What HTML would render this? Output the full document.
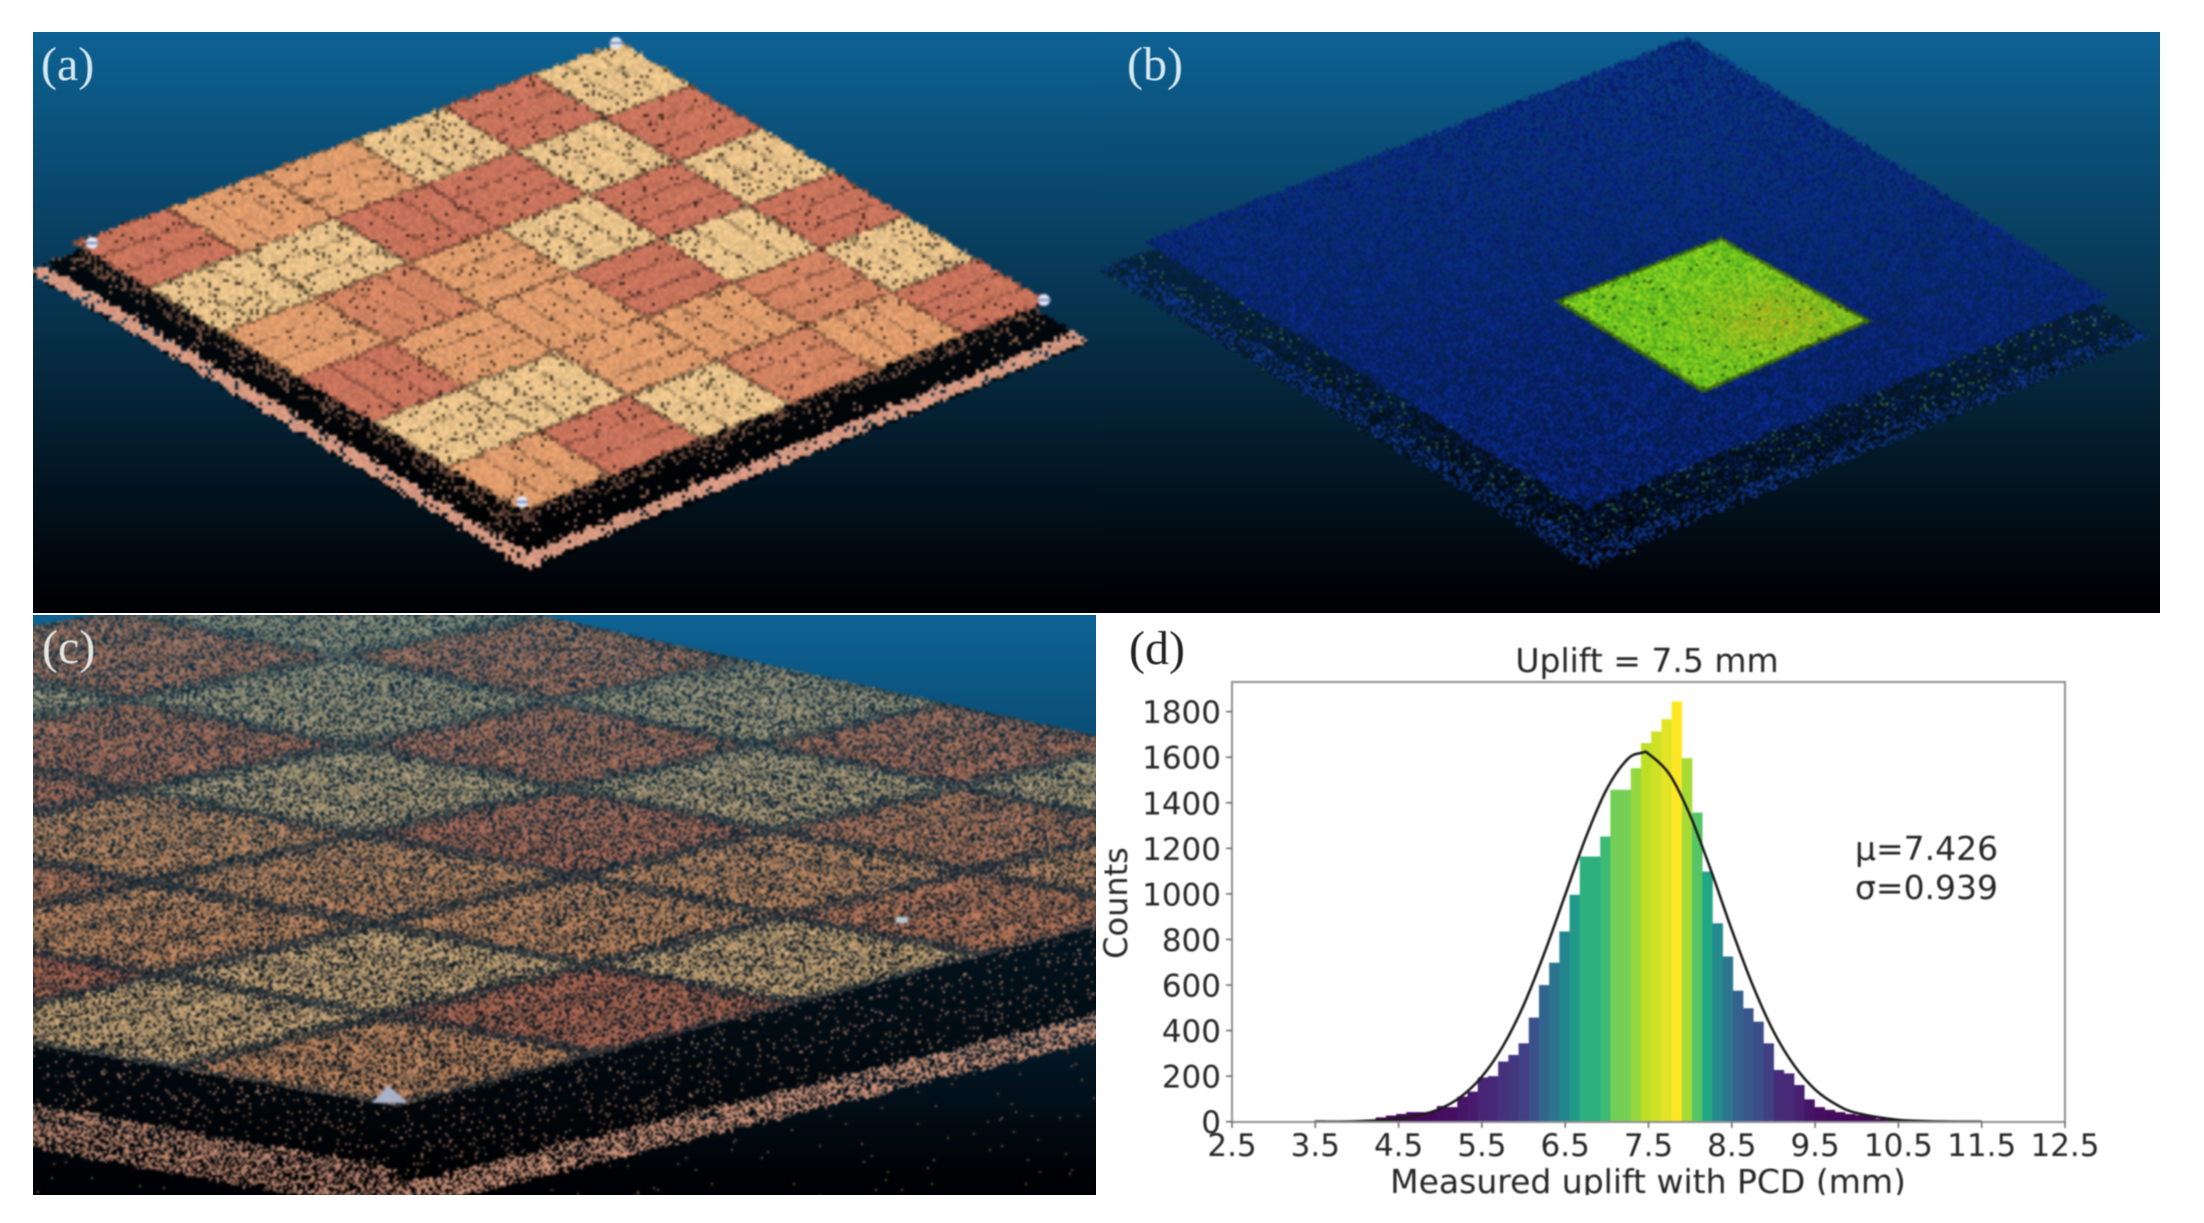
<!DOCTYPE html>
<html lang="en">
<head>
<meta charset="utf-8">
<title>Point cloud uplift figure</title>
<style>
html,body{margin:0;padding:0;background:#fff;}
body{position:relative;width:2204px;height:1223px;overflow:hidden;font-family:"DejaVu Sans",sans-serif;}
.panel{position:absolute;overflow:hidden;}
canvas{position:absolute;left:-8px;top:-8px;display:block;filter:blur(1px);}
.panel-label{position:absolute;font-family:"Liberation Serif",serif;font-size:48px;line-height:50px;filter:blur(0.5px);}
svg{position:absolute;left:0;top:0;filter:blur(0.7px);}
svg text{font-family:"DejaVu Sans",sans-serif;fill:#262626;}
</style>
</head>
<body>
<div class="panel" style="left:33px;top:32px;width:1067px;height:581px"><canvas id="ca" width="1083" height="597"></canvas></div>
<div class="panel" style="left:1100px;top:32px;width:1060px;height:581px"><canvas id="cb" width="1076" height="597"></canvas></div>
<div class="panel" style="left:33px;top:615px;width:1063px;height:580px"><canvas id="cc" width="1079" height="596"></canvas></div>

<div class="panel-label" style="left:41px;top:40px;color:#d5e8f0">(a)</div>
<div class="panel-label" style="left:1127px;top:40px;color:#d5e8f0">(b)</div>
<div class="panel-label" style="left:42px;top:623px;color:#e4e6e0">(c)</div>
<div class="panel-label" style="left:1129px;top:624px;color:#222">(d)</div>

<svg id="chart" width="2204" height="1223" viewBox="0 0 2204 1223" xmlns="http://www.w3.org/2000/svg">
  <defs><clipPath id="figure-clip"><rect x="0" y="0" width="2204" height="1195"/></clipPath></defs>
  <g id="bars"></g>
  <path id="fit" fill="none" stroke="#1c1c1c" stroke-width="2.6"/>
  <rect x="1232" y="682" width="833" height="440" fill="none" stroke="#8f8f8f" stroke-width="2"/>
  <g id="ticks"></g>
  <text x="1647" y="672" font-size="33" text-anchor="middle">Uplift = 7.5 mm</text>
  <text transform="translate(1127,903) rotate(-90)" font-size="32" text-anchor="middle">Counts</text>
  <g clip-path="url(#figure-clip)"><text x="1648" y="1193" font-size="33" text-anchor="middle">Measured uplift with PCD (mm)</text></g>
  <text x="1855" y="860" font-size="33">μ=7.426</text>
  <text x="1855" y="899" font-size="33">σ=0.939</text>
</svg>

<script>
// Histogram data
const binStart = 3.49;
const binWidth = 0.1225;
const counts = [6,2,4,5,6,8,19,27,34,42,42,44,69,64,110,132,194,200,264,293,344,457,600,698,835,996,1164,1164,1252,1457,1457,1552,1662,1713,1767,1845,1596,1357,1098,871,725,575,498,439,344,227,212,161,98,64,52,42,34,29,25,12,8,5,3,2,1];
const fitX = [3.5,4,4.5,4.75,5,5.25,5.5,5.75,6,6.25,6.5,6.75,7,7.25,7.43,7.5,7.75,8,8.25,8.5,8.75,9,9.25,9.5,9.75,10,10.5,11,11.5];
const fitY = [0,2,13,28,57,110,198,330,511,740,996,1250,1461,1592,1620,1615,1526,1344,1103,842,600,397,246,141,76,38,8,1,0];
const xTicks = [2.5,3.5,4.5,5.5,6.5,7.5,8.5,9.5,10.5,11.5,12.5];
const yTicks = [0,200,400,600,800,1000,1200,1400,1600,1800];

const xScale = v => 1232 + (v - 2.5) * 83.3;
const yScale = v => 1121.7 - v * 0.2278;
const NS = 'http://www.w3.org/2000/svg';
const viridis = [[68,1,84],[72,36,117],[65,68,135],[53,95,141],[42,120,142],[33,145,140],[34,168,132],[68,191,112],[122,209,81],[189,223,38],[253,231,37]];
function colormap(t){
  t = Math.max(0, Math.min(1, t)) * (viridis.length - 1);
  const i = Math.min(viridis.length - 2, Math.floor(t)), f = t - i;
  const c = viridis[i].map((v, k) => Math.round(v + (viridis[i + 1][k] - v) * f));
  return 'rgb(' + c.join(',') + ')';
}
const maxCount = Math.max.apply(null, counts);
const barsGroup = document.getElementById('bars');
counts.forEach(function(c, i){
  const x0 = xScale(binStart + i * binWidth), x1 = xScale(binStart + (i + 1) * binWidth);
  const el = document.createElementNS(NS, 'rect');
  
  
  el.setAttribute('x', x0);
  el.setAttribute('y', yScale(c));
  el.setAttribute('width', x1 - x0 + 0.3);
  el.setAttribute('height', yScale(0) - yScale(c));
  el.setAttribute('fill', colormap(c / maxCount));
  barsGroup.appendChild(el);
});
// Smooth curve through the read points
(function(){
  const p = fitX.map((x, i) => [xScale(x), yScale(fitY[i])]);
  let d = 'M' + p[0][0] + ' ' + p[0][1];
  for (let i = 0; i < p.length - 1; i++) {
    const a = p[Math.max(0, i - 1)], b = p[i], c = p[i + 1], e = p[Math.min(p.length - 1, i + 2)];
    d += ' C' + (b[0] + (c[0] - a[0]) / 6) + ' ' + (b[1] + (c[1] - a[1]) / 6) + ' ' + (c[0] - (e[0] - b[0]) / 6) + ' ' + (c[1] - (e[1] - b[1]) / 6) + ' ' + c[0] + ' ' + c[1];
  }
  document.getElementById('fit').setAttribute('d', d);
})();
const tickGroup = document.getElementById('ticks');
xTicks.forEach(function(v){
  const l = document.createElementNS(NS, 'line');
  
  
  l.setAttribute('x1', xScale(v)); l.setAttribute('x2', xScale(v));
  l.setAttribute('y1', 1122); l.setAttribute('y2', 1128);
  l.setAttribute('stroke', '#666'); l.setAttribute('stroke-width', '1.5');
  tickGroup.appendChild(l);
  const t = document.createElementNS(NS, 'text');
  
  
  t.setAttribute('x', xScale(v)); t.setAttribute('y', 1156);
  t.setAttribute('font-size', '31'); t.setAttribute('text-anchor', 'middle');
  t.textContent = v.toFixed(1);
  tickGroup.appendChild(t);
});
yTicks.forEach(function(v){
  const l = document.createElementNS(NS, 'line');
  
  
  l.setAttribute('x1', 1226); l.setAttribute('x2', 1232);
  l.setAttribute('y1', yScale(v)); l.setAttribute('y2', yScale(v));
  l.setAttribute('stroke', '#666'); l.setAttribute('stroke-width', '1.5');
  tickGroup.appendChild(l);
  const t = document.createElementNS(NS, 'text');
  
  
  t.setAttribute('x', 1221); t.setAttribute('y', yScale(v) + 11.5);
  t.setAttribute('font-size', '31'); t.setAttribute('text-anchor', 'end');
  t.textContent = String(v);
  tickGroup.appendChild(t);
});
</script>

<script>
// Point-cloud imagery (texture only, not chart data)
function prng(s){return function(){s|=0;s=s+0x6D2B79F5|0;let t=Math.imul(s^s>>>15,1|s);t=t+Math.imul(t^t>>>7,61|t)^t;return((t^t>>>14)>>>0)/4294967296;};}
function quad(T,R,B,L){
  const dx1=R[0]-B[0],dx2=L[0]-B[0],sx=T[0]-R[0]+B[0]-L[0],dy1=R[1]-B[1],dy2=L[1]-B[1],sy=T[1]-R[1]+B[1]-L[1];
  const det=dx1*dy2-dx2*dy1,g=(sx*dy2-dx2*sy)/det,h=(dx1*sy-sx*dy1)/det;
  const a=R[0]-T[0]+g*R[0],b=L[0]-T[0]+h*L[0],c=T[0],d=R[1]-T[1]+g*R[1],e=L[1]-T[1]+h*L[1],f=T[1];
  const A=e-f*h,Bb=c*h-b,C=b*f-c*e,D=f*g-d,E=a-c*g,F=c*d-a*f,G=d*h-e*g,H=b*g-a*h,I=a*e-b*d;
  return function(x,y){const w=G*x+H*y+I;return [(A*x+Bb*y+C)/w,(D*x+E*y+F)/w];};
}
function bgColor(y,top,h){
  const f=Math.max(0,Math.min(1,(y-top)/(h*0.97)));
  return [13*(1-f),98*(1-f)+1*f,148*(1-f)+4*f];
}
function mix(a,b,t){return [a[0]+(b[0]-a[0])*t,a[1]+(b[1]-a[1])*t,a[2]+(b[2]-a[2])*t];}
function mul(a,k){return [a[0]*k,a[1]*k,a[2]*k];}
function paint(id,X,Y,tile,shader){
  const cv=document.getElementById(id),ctx=cv.getContext('2d'),W=cv.width,H=cv.height;
  const img=ctx.createImageData(W,H),D=img.data;
  for(let ty=0;ty<H;ty+=tile){for(let tx=0;tx<W;tx+=tile){
    const c=shader(X-8+tx,Y-8+ty);
    for(let yy=ty;yy<Math.min(H,ty+tile);yy++){for(let xx=tx;xx<Math.min(W,tx+tile);xx++){
      const o=(yy*W+xx)*4;D[o]=c[0];D[o+1]=c[1];D[o+2]=c[2];D[o+3]=255;
    }}
  }}
  ctx.putImageData(img,0,0);
  return ctx;
}
const blocks=[
 "TRTOOR",
 "RTRRTT",
 "TRTOQO",
 "RTROOR",
 "TQOOTT",
 "ROQTRO"];
const palette={R:[201,116,92],O:[223,156,108],T:[233,195,138],Q:[210,132,98]};
function brick(a,b,w,inner){
  const i=Math.max(0,Math.min(5,Math.floor(a*0.6))),j=Math.max(0,Math.min(5,Math.floor(b*0.6)));
  const fa=a*0.6-i,fb=b*0.6-j;
  const key=blocks[i][j];
  const along=(i+j)%2===0?fb:fa;
  const m=Math.abs(along*3-Math.round(along*3))/3;
  let mortar=0;
  const bw=0.025*w;
  if(fa<bw||fa>1-bw||fb<bw||fb>1-bw)mortar=1;
  else if(m<0.018*w&&along>0.1&&along<0.9)mortar=inner;
  return {key:key,mortar:mortar};
}

// Panel (a)
(function(){
  const rand=prng(11),uv=quad([619,40],[1047,300],[520,510],[71,241]);
  const rim=[219,156,132];
  paint('ca',33,32,3,function(x,y){
    const bg=bgColor(y,32,581);
    const p=uv(x,y),a=p[0]*10+(rand()-0.5)*0.08,b=p[1]*10+(rand()-0.5)*0.08;
    if(a>=0&&a<=10&&b>=0&&b<=10){
      const br=brick(a,b,1,0.7);
      const c=palette[br.key];
      const speck=br.key==='T'?0.08:0.03;
      let k=0.92+rand()*0.15;
      if(br.mortar)k*=1-0.35*br.mortar;
      if(rand()<speck)k*=0.4;
      return mul(c,k);
    }
    const r=rand();
    const inA=a>10&&a<11.35&&b>0.3&&b<11;
    const inB=b>10&&b<11&&a>0.25&&a<11.35;
    const onRimA=inA&&a>11.02-(r*0.12)&&a<11.3;
    const onRimB=inB&&b>10.74-(r*0.1)&&b<10.98;
    if(onRimA||onRimB){return r<0.9?mul(rim,0.9+rand()*0.15):bg;}
    if(inA||inB){
      const d=a>10?a-10:b-10;
      if(d<0.35&&r<0.4)return mul([150,105,85],0.4+rand()*0.5);
      if(r<0.05)return mul(rim,0.6);
      return mul(bg,0.15);
    }
    return bg;
  });
  const ctx=document.getElementById('ca').getContext('2d');
  [[616,43],[92,243],[1044,300],[522,502]].forEach(function(m){
    ctx.fillStyle='#dfe6f2';ctx.beginPath();ctx.arc(m[0]-25,m[1]-24,6,0,7);ctx.fill();
    ctx.fillStyle='#7c86b8';ctx.fillRect(m[0]-25-7,m[1]-24-1,14,2);
  });
})();

// Panel (b)
(function(){
  const rand=prng(23);
  const uv=quad([1688,36],[2110,296],[1582,508],[1143,241]);
  const sq=quad([1720,236],[1871,320],[1702,392],[1553,300]);
  paint('cb',1100,32,2,function(x,y){
    const bg=bgColor(y,32,581);
    const s=sq(x,y);
    if(s[0]>=0&&s[0]<=1&&s[1]>=0&&s[1]<=1){
      const r=rand();
      if(r<0.015)return [10,40,20];
      const edge=Math.min(s[0],1-s[0],s[1],1-s[1]);
      let c=mix([60,165,30],[165,225,30],rand());
      const dx=(x-1776)/70,dy=(y-318)/32,hot=Math.exp(-(dx*dx+dy*dy));
      c=mix(c,[215,160,30],hot*0.75*rand());
      if(edge<0.025)c=mul(c,0.55);
      return c;
    }
    const p=uv(x,y),a=p[0]*10+(rand()-0.5)*0.1,b=p[1]*10+(rand()-0.5)*0.1;
    const r=rand();
    if(a>=0&&a<=10&&b>=0&&b<=10){
      if(r<0.66){
        return mul([10,44,148],0.6+0.45*rand());
      }
      return mix(bg,[5,25,90],0.45);
    }
    const inA=a>10&&a<11.3&&b>0.3&&b<11, inB=b>10&&b<11&&a>0.25&&a<11.4;
    if(inA||inB){
      const rimBand=(a>10.9&&a<11.3)||(b>10.6&&b<10.98);
      if(rimBand&&r<0.42)return [14,52,135];
      if(r<0.04)return [60,120,70];
      if(r<0.3)return [8,32,100];
      return mul(bg,0.6);
    }
    return bg;
  });
})();

// Panel (c)
(function(){
  const rand=prng(37);
  const uv=quad([327,568],[1497,822],[396,1106],[-1118,847]);
  const rim=[206,148,122];
  paint('cc',33,615,2,function(x,y){
    const bg=bgColor(y,615,580);
    const p=uv(x,y),a=p[0]*10,b=p[1]*10;
    const r=rand();
    if(a>=0&&a<=10&&b>=0&&b<=10){
      const br=brick(a+(rand()-0.5)*0.18,b+(rand()-0.5)*0.18,2.1,0.35);
      let c=mix(palette[br.key],[150,120,100],0.18);
      const far=Math.max(0,Math.min(1,(930-y)/310));
      if(br.mortar)c=mix(c,[28,50,66],0.75*br.mortar);
      c=mix(c,[120,148,140],far*(br.key==='T'?0.7:0.35));
      if(r<0.28)return mix(mul(bg,0.7),[28,32,38],0.5);
      return mul(c,0.6+rand()*0.42);
    }
    const rightC=1197-0.244*(x-396),leftC=1190+0.18*(x-396);
    if(x>=396&&Math.abs(y-rightC)<11+rand()*5)return r<0.62?mul(rim,0.7+rand()*0.4):bg;
    if(x<396&&Math.abs(y-leftC)<20+rand()*5)return r<0.55?mul(rim,0.55+rand()*0.5):bg;
    const above=x>=396?y<rightC:y<leftC;
    if(above&&y>800){
      if(r<0.06)return mul(rim,0.45+rand()*0.5);
      return mul(bg,0.45);
    }
    if(r<0.006&&y>900)return mul(rim,0.6);
    return bg;
  });
  const ctx=document.getElementById('cc').getContext('2d');
  ctx.fillStyle='#aab0c8';ctx.beginPath();ctx.moveTo(372-25,1103-607);ctx.lineTo(388-25,1085-607);ctx.lineTo(408-25,1103-607);ctx.closePath();ctx.fill();
  ctx.fillStyle='#b8c8d0';ctx.fillRect(896-25,917-607,12,6);
})();
</script>
</body>
</html>
